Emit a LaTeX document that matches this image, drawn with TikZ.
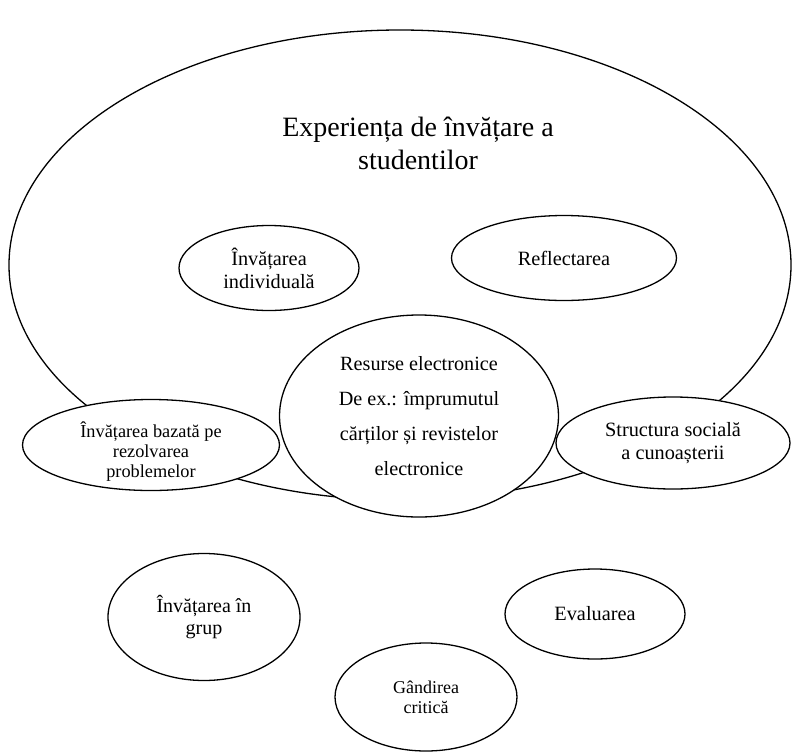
\documentclass[tikz,border=0pt]{standalone}
\usepackage{fontspec}
\setmainfont{Liberation Serif}
\usetikzlibrary{shapes.geometric}

\tikzset{
  bubble/.style={draw=black, line width=1.3pt, fill=white, ellipse,
    inner sep=0pt, align=center, font=\fontsize{20.3}{23}\selectfont},
  caption/.style={align=center, inner sep=0pt},
  title/.style={align=center, font=\fontsize{28}{33}\selectfont},
}

\begin{document}
\begin{tikzpicture}[x=1pt, y=-1pt]
  \useasboundingbox (0,0) rectangle (793,753);

  % outer field: the students' learning experience
  \node[bubble, minimum width=782pt, minimum height=470pt] (outer) at (400,265) {};
  \node[title] (head) at (418,143) {Experiența de învățare a\\studentilor};

  % activities inside the field
  \node[bubble, minimum width=180pt, minimum height=85pt] (indiv) at (269,268)
    {Învățarea\\individuală};
  \node[bubble, minimum width=225pt, minimum height=85pt] (refl) at (564,258)
    {Reflectarea};

  % activities on the rim of the field
  \node[bubble, minimum width=257pt, minimum height=91pt] (probl) at (151,445) {};
  \node[caption, font=\fontsize{18.3}{20}\selectfont] (problT) at (151,452)
    {Învățarea bazată pe\\rezolvarea\\problemelor};
  \node[bubble, minimum width=234pt, minimum height=92pt] (social) at (673,443)
    {Structura socială\\a cunoașterii};

  % central resource
  \node[bubble, minimum width=279pt, minimum height=202pt,
    font=\fontsize{20.2}{35}\selectfont] (res) at (419,416)
    {Resurse electronice\\De ex.: împrumutul\\cărților și revistelor\\electronice};

  % activities below the field
  \node[bubble, minimum width=192pt, minimum height=127pt,
    font=\fontsize{20}{22}\selectfont] (group) at (204,617)
    {Învățarea în\\grup};
  \node[bubble, minimum width=180pt, minimum height=90pt] (eval) at (595,614)
    {Evaluarea};
  \node[bubble, minimum width=182pt, minimum height=108pt,
    font=\fontsize{18}{20}\selectfont] (crit) at (426,697)
    {Gândirea\\critică};
\end{tikzpicture}
\end{document}
